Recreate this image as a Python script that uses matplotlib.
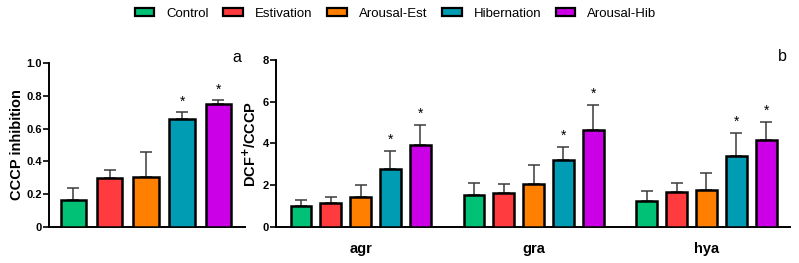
import numpy as np
import matplotlib.pyplot as plt
from matplotlib.patches import Patch

plt.rcParams['font.family'] = ['Liberation Sans', 'DejaVu Sans']

groups = ['Control', 'Estivation', 'Arousal-Est', 'Hibernation', 'Arousal-Hib']
colors = ['#00c176', '#ff3b3f', '#ff8000', '#009cb4', '#cc00e6']

# panel a: CCCP inhibition
a_mean = [0.165, 0.30, 0.305, 0.66, 0.75]
a_err = [0.07, 0.05, 0.15, 0.04, 0.025]
a_star = [False, False, False, True, True]

# panel b: DCF+/CCCP per tissue
tissues = ['agr', 'gra', 'hya']
b_mean = [
    [1.00, 1.15, 1.44, 2.80, 3.92],
    [1.55, 1.63, 2.05, 3.20, 4.64],
    [1.25, 1.66, 1.76, 3.39, 4.16],
]
b_err = [
    [0.28, 0.27, 0.59, 0.83, 0.96],
    [0.56, 0.45, 0.94, 0.64, 1.20],
    [0.45, 0.45, 0.83, 1.09, 0.88],
]
b_star = [
    [False, False, False, True, True],
    [False, False, False, True, True],
    [False, False, False, True, True],
]

fig = plt.figure(figsize=(7.99, 2.63), dpi=100)
ax1 = fig.add_axes([0.0613, 0.137, 0.2453, 0.623])
ax2 = fig.add_axes([0.3454, 0.137, 0.6433, 0.635])

ecol = '#3a3a3a'

def draw_bars(ax, xs, means, errs, stars, star_off):
    for x, m, e, c, s in zip(xs, means, errs, colors, stars):
        ax.bar(x, m, width=0.70, color=c, edgecolor='black', linewidth=1.8, zorder=3)
        ax.errorbar(x, m, yerr=[[0], [e]], fmt='none', ecolor=ecol, elinewidth=1.1,
                    capsize=4.3, capthick=1.1, zorder=2)
        if s:
            ax.text(x, m + e + star_off, '*', ha='center', va='bottom', fontsize=10)

def style(ax):
    for sp in ['top', 'right']:
        ax.spines[sp].set_visible(False)
    for sp in ['left', 'bottom']:
        ax.spines[sp].set_linewidth(1.4)
    ax.tick_params(axis='y', labelsize=8, width=1.2, length=4, pad=1)
    for lab in ax.get_yticklabels():
        lab.set_fontweight('bold')

# panel a
xa = np.arange(5)
draw_bars(ax1, xa, a_mean, a_err, a_star, 0.02)
ax1.set_xlim(-0.67, 4.73)
ax1.set_ylim(0, 1.0)
ax1.set_yticks([0, 0.2, 0.4, 0.6, 0.8, 1.0])
ax1.set_yticklabels(['0', '0.2', '0.4', '0.6', '0.8', '1.0'])
ax1.set_xticks([])
ax1.set_ylabel('CCCP inhibition', fontsize=10.5, fontweight='bold', labelpad=2)
style(ax1)
ax1.text(0.96, 0.99, 'a', transform=ax1.transAxes, fontsize=11.5, ha='center', va='bottom')

# panel b
gap = 5.8
centers = []
for i, t in enumerate(tissues):
    xb = np.arange(5) + i * gap
    draw_bars(ax2, xb, b_mean[i], b_err[i], b_star[i], 0.2)
    centers.append(xb.mean())
ax2.set_xlim(-0.84, 2 * gap + 4 + 0.8)
ax2.set_ylim(0, 8)
ax2.set_yticks([0, 2, 4, 6, 8])
ax2.set_xticks(centers)
ax2.set_xticklabels(tissues, fontsize=10.5, fontweight='bold')
ax2.tick_params(axis='x', length=0, pad=11)
ax2.set_ylabel('DCF$^{\\mathbf{+}}$/CCCP', fontsize=10.5, fontweight='bold', labelpad=3)
style(ax2)
ax2.text(0.985, 0.975, 'b', transform=ax2.transAxes, fontsize=11.5, ha='center', va='bottom')

handles = [Patch(facecolor=c, edgecolor='black', linewidth=1.6) for c in colors]
fig.legend(handles, groups, loc='upper center', bbox_to_anchor=(0.495, 1.015), ncol=5,
           frameon=False, fontsize=9.5, handlelength=1.5, handleheight=0.6,
           columnspacing=1.1, handletextpad=0.9)

fig.savefig('out.png', dpi=100)
